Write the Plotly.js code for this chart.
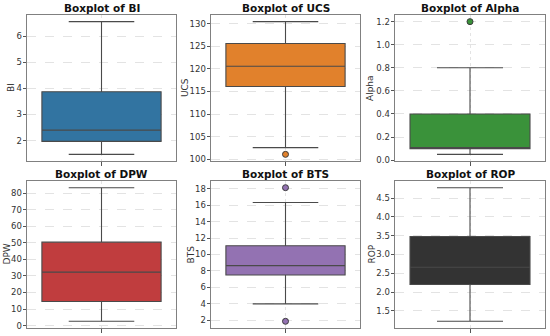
<!DOCTYPE html>
<html><head><meta charset="utf-8">
<script src="https://cdn.plot.ly/plotly-3.0.1.min.js"></script>
<style>html,body{margin:0;padding:0;background:#fff}#chart{width:550px;height:336px}</style>
</head><body><div id="chart"></div>
<script>
// Data
const variables = ["BI", "UCS", "Alpha", "DPW", "BTS", "ROP"];
const colors = ["#3274a1", "#e1812c", "#3a923a", "#c03d3e", "#9372b2", "#333333"];
const q1 = [1.97, 116.1, 0.10, 14.6, 7.5, 2.20];
const median = [2.40, 120.6, 0.10, 32.3, 8.65, 2.66];
const q3 = [3.87, 125.6, 0.40, 50.4, 11.06, 3.48];
const lowerWhisker = [1.47, 102.6, 0.05, 2.6, 4.0, 1.22];
const upperWhisker = [6.56, 130.45, 0.80, 83.3, 16.32, 4.78];
const outliers = [[], [101.1], [1.2], [], [18.12, 1.88], []];
const yTicks = [
  [2, 3, 4, 5, 6],
  [100, 105, 110, 115, 120, 125, 130],
  [0, 0.2, 0.4, 0.6, 0.8, 1.0, 1.2],
  [0, 10, 20, 30, 40, 50, 60, 70, 80],
  [2, 4, 6, 8, 10, 12, 14, 16, 18],
  [1.5, 2.0, 2.5, 3.0, 3.5, 4.0, 4.5]
];
const yTickFormat = ["d", "d", ".1f", "d", "d", ".1f"];

// Layout geometry
const W = 550, H = 336;
const colPx = [[27, 176], [211, 360], [395, 545]];
const rowPx = [[15, 161], [181, 328]];
const yTitlePx = [11, 185, 370, 6, 190, 371];

const traces = [];
const layout = {
  width: W, height: H,
  margin: {l: 0, r: 0, t: 0, b: 0},
  paper_bgcolor: "#ffffff", plot_bgcolor: "#ffffff",
  showlegend: false,
  font: {family: "DejaVu Sans, sans-serif", size: 8.5, color: "#333333"},
  annotations: []
};

variables.forEach((name, i) => {
  const r = Math.floor(i / 3), c = i % 3;
  const ax = i === 0 ? "" : String(i + 1);
  const xa = "x" + ax, ya = "y" + ax;
  const allVals = [lowerWhisker[i], upperWhisker[i]].concat(outliers[i]);
  const lo = Math.min(...allVals), hi = Math.max(...allVals);
  const pad = (hi - lo) * 0.05;
  traces.push({
    type: "box", xaxis: xa, yaxis: ya,
    x: [0], q1: [q1[i]], median: [median[i]], q3: [q3[i]],
    lowerfence: [lowerWhisker[i]], upperfence: [upperWhisker[i]],
    width: 0.8, whiskerwidth: 0.55,
    fillcolor: colors[i],
    line: {color: "#4a4a4a", width: 1.1},
    boxpoints: false, hoverinfo: "skip"
  });
  if (outliers[i].length) {
    traces.push({
      type: "scatter", mode: "markers", xaxis: xa, yaxis: ya,
      x: outliers[i].map(() => 0), y: outliers[i],
      marker: {color: colors[i], size: 6, line: {color: "#3a3a3a", width: 1}},
      hoverinfo: "skip"
    });
  }
  const xd = [colPx[c][0] / W, colPx[c][1] / W];
  const yd = [1 - rowPx[r][1] / H, 1 - rowPx[r][0] / H];
  layout["xaxis" + ax] = {
    domain: xd, anchor: ya, range: [-0.5, 0.5],
    tickvals: [0], ticktext: [""], ticks: "outside", ticklen: 3.5, tickcolor: "#555",
    showgrid: true, gridcolor: "#e3e3e3", griddash: "dot", gridwidth: 1,
    zeroline: false, showline: true, mirror: true, linecolor: "#808080", linewidth: 1,
    fixedrange: true
  };
  layout["yaxis" + ax] = {
    domain: yd, anchor: xa, range: [lo - pad, hi + pad],
    tickvals: yTicks[i], tickformat: yTickFormat[i],
    ticks: "outside", ticklen: 3.5, tickcolor: "#555",
    tickfont: {size: 8.5, color: "#333"}, ticklabelstandoff: -1,
    showgrid: true, gridcolor: "#e3e3e3", griddash: "dash", gridwidth: 1,
    zeroline: false, showline: true, mirror: true, linecolor: "#808080", linewidth: 1,
    fixedrange: true
  };
  layout.annotations.push({
    text: "<b>Boxplot of " + name + "</b>",
    xref: "paper", yref: "paper",
    x: (xd[0] + xd[1]) / 2, y: yd[1],
    xanchor: "center", yanchor: "bottom", yshift: -1,
    showarrow: false,
    font: {family: "DejaVu Sans, sans-serif", size: 10.5, color: "#111"}
  });
  layout.annotations.push({
    text: name,
    xref: "paper", yref: "paper",
    x: yTitlePx[i] / W, y: (yd[0] + yd[1]) / 2,
    xanchor: "center", yanchor: "middle", textangle: -90,
    showarrow: false,
    font: {family: "DejaVu Sans, sans-serif", size: 9, color: "#333"}
  });
});

Plotly.newPlot("chart", traces, layout, {staticPlot: true, displayModeBar: false});
</script>
</body></html>
